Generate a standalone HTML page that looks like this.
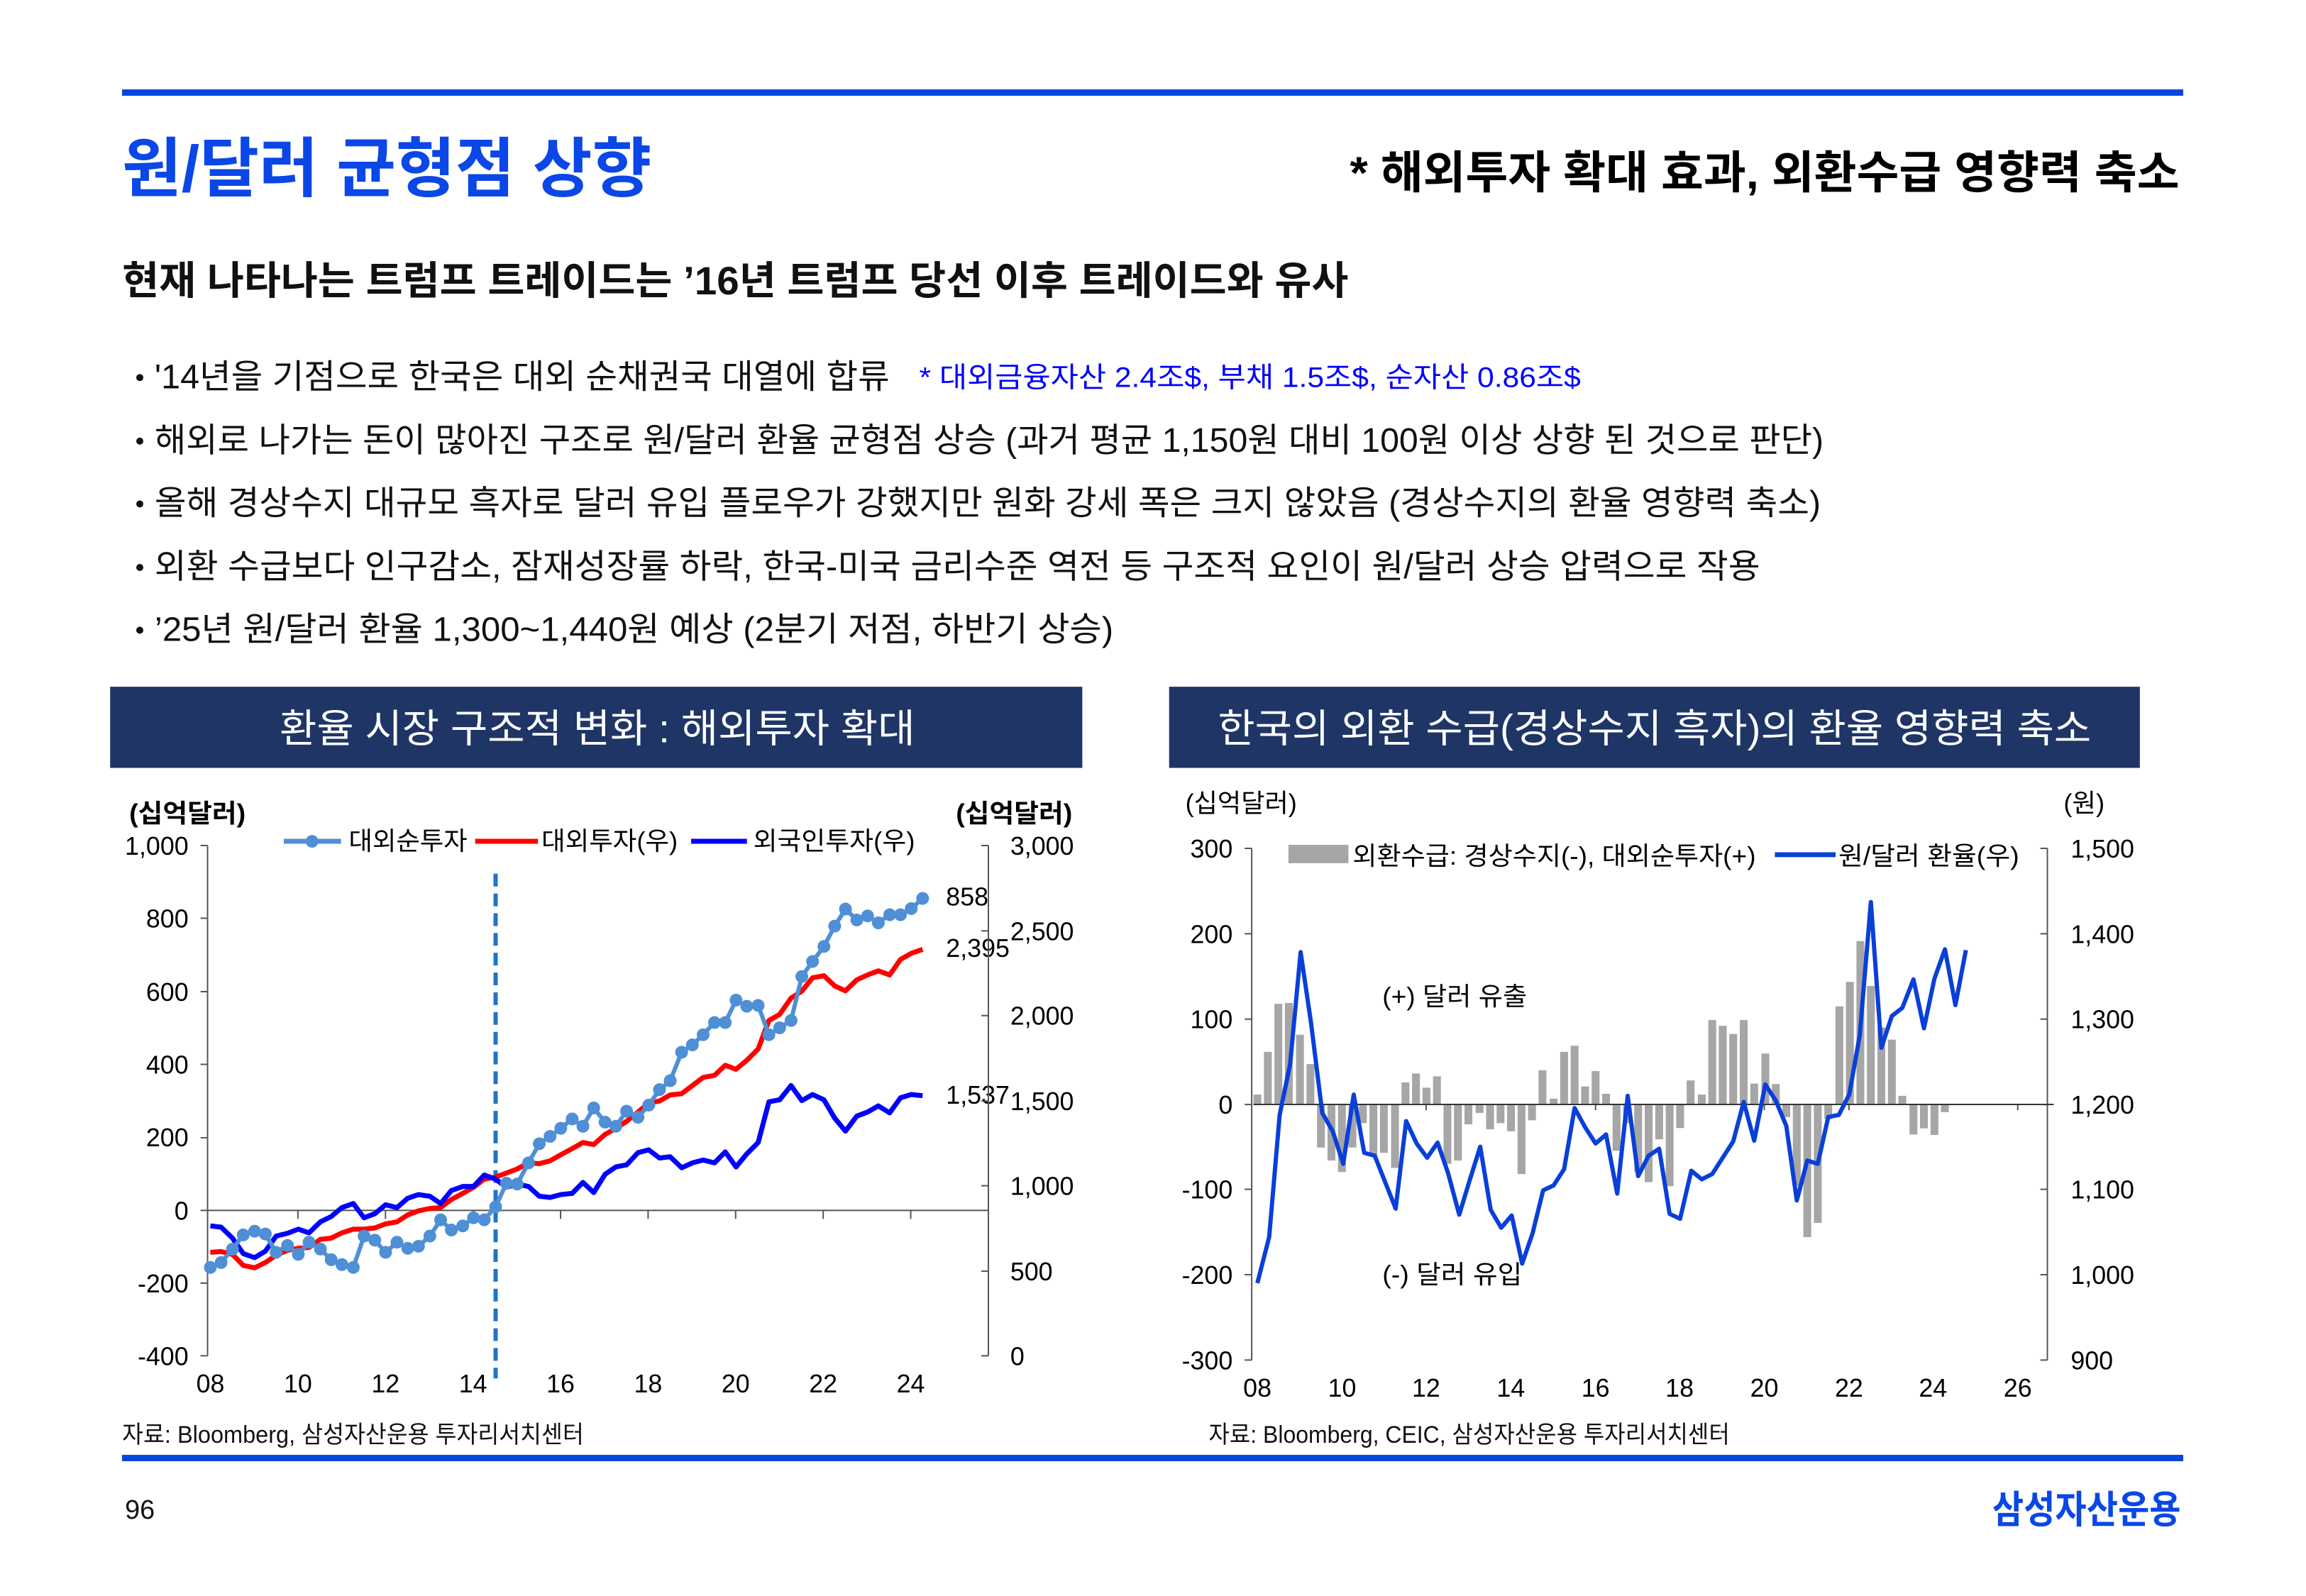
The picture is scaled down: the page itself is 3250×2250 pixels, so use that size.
<!DOCTYPE html>
<html><head><meta charset="utf-8">
<style>
html,body{margin:0;padding:0;background:#fff;}
svg{display:block;}
text{font-family:"Liberation Sans","Noto Sans CJK KR",sans-serif;}
.n{vector-effect:non-scaling-stroke;}
</style></head>
<body>
<svg width="3250" height="2250" viewBox="0 0 3250 2250" xmlns="http://www.w3.org/2000/svg">
<rect width="3250" height="2250" fill="#fff"/>
<rect x="172" y="126" width="2905" height="9" fill="#0047e0"/>
<rect x="172" y="2051" width="2905" height="9" fill="#0047e0"/>
<g transform="scale(0.995)">
<!-- header -->
<text x="173" y="271" font-size="92" font-weight="bold" fill="#0a47e6" textLength="750" lengthAdjust="spacingAndGlyphs">원/달러 균형점 상향</text>
<text x="1912" y="267" font-size="64" font-weight="bold" fill="#000" textLength="1175" lengthAdjust="spacingAndGlyphs">* 해외투자 확대 효과, 외환수급 영향력 축소</text>
<text x="173" y="417" font-size="56" font-weight="bold" fill="#111" textLength="1737" lengthAdjust="spacingAndGlyphs">현재 나타나는 트럼프 트레이드는 ’16년 트럼프 당선 이후 트레이드와 유사</text>
<g font-size="48" fill="#111">
<circle cx="198" cy="535" r="5" fill="#111"/>
<text x="219" y="550" textLength="1041" lengthAdjust="spacingAndGlyphs">'14년을 기점으로 한국은 대외 순채권국 대열에 합류</text>
<text x="1302" y="548" font-size="40" fill="#0000ff" textLength="937" lengthAdjust="spacingAndGlyphs">* 대외금융자산 2.4조$, 부채 1.5조$, 순자산 0.86조$</text>
<circle cx="198" cy="625" r="5" fill="#111"/>
<text x="219" y="640" textLength="2364" lengthAdjust="spacingAndGlyphs">해외로 나가는 돈이 많아진 구조로 원/달러 환율 균형점 상승 (과거 평균 1,150원 대비 100원 이상 상향 된 것으로 판단)</text>
<circle cx="198" cy="714" r="5" fill="#111"/>
<text x="219" y="729" textLength="2360" lengthAdjust="spacingAndGlyphs">올해 경상수지 대규모 흑자로 달러 유입 플로우가 강했지만 원화 강세 폭은 크지 않았음 (경상수지의 환율 영향력 축소)</text>
<circle cx="198" cy="804" r="5" fill="#111"/>
<text x="219" y="819" textLength="2274" lengthAdjust="spacingAndGlyphs">외환 수급보다 인구감소, 잠재성장률 하락, 한국-미국 금리수준 역전 등 구조적 요인이 원/달러 상승 압력으로 작용</text>
<circle cx="198" cy="893" r="5" fill="#111"/>
<text x="219" y="908" textLength="1358" lengthAdjust="spacingAndGlyphs">’25년 원/달러 환율  1,300~1,440원 예상 (2분기 저점, 하반기 상승)</text>
</g>
<rect x="156" y="973" width="1377" height="115" fill="#1f3566"/>
<rect x="1656" y="973" width="1375" height="115" fill="#1f3566"/>
<text x="396" y="1052" font-size="56" fill="#fff" textLength="900" lengthAdjust="spacingAndGlyphs">환율 시장 구조적 변화 : 해외투자 확대</text>
<text x="1725" y="1052" font-size="56" fill="#fff" textLength="1237" lengthAdjust="spacingAndGlyphs">한국의 외환 수급(경상수지 흑자)의 환율 영향력 축소</text>

<!-- ===== LEFT CHART ===== -->
<g font-size="36" fill="#000">
<text x="183" y="1165" font-weight="bold" textLength="165" lengthAdjust="spacingAndGlyphs">(십억달러)</text>
<text x="1354" y="1165" font-weight="bold" textLength="165" lengthAdjust="spacingAndGlyphs">(십억달러)</text>
<g text-anchor="end">
<text x="267" y="1211">1,000</text><text x="267" y="1314">800</text><text x="267" y="1418">600</text>
<text x="267" y="1521">400</text><text x="267" y="1624">200</text><text x="267" y="1728">0</text>
<text x="267" y="1831">-200</text><text x="267" y="1934">-400</text>
</g>
<text x="1431" y="1211">3,000</text><text x="1431" y="1332">2,500</text><text x="1431" y="1452">2,000</text>
<text x="1431" y="1573">1,500</text><text x="1431" y="1693">1,000</text><text x="1431" y="1814">500</text><text x="1431" y="1934">0</text>
<g text-anchor="middle">
<text x="298" y="1973">08</text><text x="422" y="1973">10</text><text x="546" y="1973">12</text><text x="670" y="1973">14</text>
<text x="794" y="1973">16</text><text x="918" y="1973">18</text><text x="1042" y="1973">20</text><text x="1166" y="1973">22</text><text x="1290" y="1973">24</text>
</g>
<text x="1340" y="1283">858</text>
<text x="1340" y="1356">2,395</text>
<text x="1340" y="1564">1,537</text>
<line x1="402" y1="1192" x2="483" y2="1192" stroke="#4f8fd6" stroke-width="7"/>
<circle cx="442" cy="1192" r="9" fill="#4f8fd6"/>
<text x="494" y="1204" textLength="168" lengthAdjust="spacingAndGlyphs">대외순투자</text>
<line x1="673" y1="1192" x2="762" y2="1192" stroke="#ff0000" stroke-width="7"/>
<text x="767" y="1204" textLength="193" lengthAdjust="spacingAndGlyphs">대외투자(우)</text>
<line x1="979" y1="1192" x2="1058" y2="1192" stroke="#0000ff" stroke-width="7"/>
<text x="1067" y="1204" textLength="229" lengthAdjust="spacingAndGlyphs">외국인투자(우)</text>
</g>
<g stroke="#555" stroke-width="2">
<line x1="294" y1="1198" x2="294" y2="1921"/>
<line x1="1400" y1="1198" x2="1400" y2="1921"/>
<line x1="294" y1="1715" x2="1400" y2="1715"/>
<path d="M284 1198h10M284 1301h10M284 1405h10M284 1508h10M284 1612h10M284 1715h10M284 1818h10M284 1921h10"/>
<path d="M1390 1198h10M1390 1319h10M1390 1439h10M1390 1560h10M1390 1680h10M1390 1801h10M1390 1921h10"/>
<path d="M422 1715v12M546 1715v12M670 1715v12M794 1715v12M918 1715v12M1042 1715v12M1166 1715v12M1290 1715v12"/>
</g>
<line x1="702" y1="1238" x2="702" y2="1953" stroke="#1f74c8" stroke-width="6" stroke-dasharray="18,10"/>
<g transform="matrix(0.896,0,0,0.5764,151.9,1105.8)" fill="none" stroke-linejoin="round">
<polyline class="n" stroke="#ff0000" stroke-width="7" points="163,1160 180,1158 198,1165 215,1192 233,1198 250,1185 267,1167 285,1155 302,1150 319,1148 337,1128 354,1125 371,1112 389,1103 406,1103 423,1100 440,1090 458,1085 475,1068 492,1058 510,1052 527,1050 544,1030 562,1015 579,1000 596,980 614,975 631,965 648,955 666,940 683,942 700,935 717,920 735,905 752,890 769,895 787,870 804,855 821,838 839,815 856,793 873,788 890,773 908,770 925,750 942,730 960,725 977,700 994,710 1011,688 1029,660 1046,590 1063,575 1081,535 1098,518 1115,485 1133,480 1150,505 1167,517 1185,490 1202,478 1219,468 1237,478 1254,440 1271,425 1289,415"/>
<polyline class="n" stroke="#0000ff" stroke-width="7" points="163,1095 180,1098 198,1125 215,1163 233,1173 250,1157 267,1120 285,1113 302,1103 319,1112 337,1085 354,1072 371,1050 389,1040 406,1075 423,1065 440,1043 458,1050 475,1027 492,1018 510,1022 527,1040 544,1008 562,998 579,998 596,970 614,980 631,1000 648,992 666,998 683,1022 700,1025 717,1018 735,1015 752,988 769,1013 787,968 804,950 821,945 839,915 856,908 873,928 890,925 908,952 925,940 942,933 960,940 977,913 994,950 1011,918 1029,890 1046,790 1063,785 1081,750 1098,787 1115,772 1133,785 1150,830 1167,862 1185,825 1202,815 1219,800 1237,817 1254,780 1271,772 1289,775"/>
<polyline class="n" stroke="#4f8fd6" stroke-width="6" points="163,1197 180,1185 198,1152 215,1117 233,1108 250,1115 267,1160 285,1143 302,1165 319,1135 337,1152 354,1178 371,1190 389,1197 406,1120 423,1130 440,1160 458,1135 475,1150 492,1145 510,1120 527,1080 544,1105 562,1095 579,1075 596,1080 614,1048 631,990 648,992 666,940 683,893 700,875 717,855 735,832 752,850 769,805 787,840 804,850 821,813 839,828 856,798 873,760 890,738 908,668 925,650 942,625 960,595 977,595 994,540 1011,555 1029,553 1046,625 1063,608 1081,590 1098,482 1115,445 1133,408 1150,358 1167,316 1185,343 1202,333 1219,350 1237,330 1254,330 1271,315 1289,290"/>
<path class="n" stroke="#4f8fd6" stroke-width="18" stroke-linecap="round" d="M163,1197h.01M180,1185h.01M198,1152h.01M215,1117h.01M233,1108h.01M250,1115h.01M267,1160h.01M285,1143h.01M302,1165h.01M319,1135h.01M337,1152h.01M354,1178h.01M371,1190h.01M389,1197h.01M406,1120h.01M423,1130h.01M440,1160h.01M458,1135h.01M475,1150h.01M492,1145h.01M510,1120h.01M527,1080h.01M544,1105h.01M562,1095h.01M579,1075h.01M596,1080h.01M614,1048h.01M631,990h.01M648,992h.01M666,940h.01M683,893h.01M700,875h.01M717,855h.01M735,832h.01M752,850h.01M769,805h.01M787,840h.01M804,850h.01M821,813h.01M839,828h.01M856,798h.01M873,760h.01M890,738h.01M908,668h.01M925,650h.01M942,625h.01M960,595h.01M977,595h.01M994,540h.01M1011,555h.01M1029,553h.01M1046,625h.01M1063,608h.01M1081,590h.01M1098,482h.01M1115,445h.01M1133,408h.01M1150,358h.01M1167,316h.01M1185,343h.01M1202,333h.01M1219,350h.01M1237,330h.01M1254,330h.01M1271,315h.01M1289,290h.01"/>
</g>

<!-- ===== RIGHT CHART ===== -->
<g font-size="36" fill="#000">
<text x="1679" y="1150" textLength="158" lengthAdjust="spacingAndGlyphs">(십억달러)</text>
<text x="2923" y="1150" textLength="58" lengthAdjust="spacingAndGlyphs">(원)</text>
<g text-anchor="end">
<text x="1746" y="1215">300</text><text x="1746" y="1336">200</text><text x="1746" y="1457">100</text>
<text x="1746" y="1578">0</text><text x="1746" y="1698">-100</text><text x="1746" y="1819">-200</text><text x="1746" y="1940">-300</text>
</g>
<text x="2933" y="1215">1,500</text><text x="2933" y="1336">1,400</text><text x="2933" y="1457">1,300</text>
<text x="2933" y="1578">1,200</text><text x="2933" y="1698">1,100</text><text x="2933" y="1819">1,000</text><text x="2933" y="1940">900</text>
<g text-anchor="middle">
<text x="1781" y="1979">08</text><text x="1901" y="1979">10</text><text x="2020" y="1979">12</text><text x="2140" y="1979">14</text>
<text x="2260" y="1979">16</text><text x="2379" y="1979">18</text><text x="2499" y="1979">20</text><text x="2619" y="1979">22</text>
<text x="2738" y="1979">24</text><text x="2858" y="1979">26</text>
</g>
<rect x="1825" y="1197" width="85" height="26" fill="#a6a6a6"/>
<text x="1916" y="1225" textLength="571" lengthAdjust="spacingAndGlyphs">외환수급: 경상수지(-), 대외순투자(+)</text>
<line x1="2514" y1="1211" x2="2600" y2="1211" stroke="#0a3fd8" stroke-width="7"/>
<text x="2604" y="1225" textLength="256" lengthAdjust="spacingAndGlyphs">원/달러 환율(우)</text>
<text x="1958" y="1424" textLength="205" lengthAdjust="spacingAndGlyphs">(+) 달러 유출</text>
<text x="1958" y="1818" textLength="198" lengthAdjust="spacingAndGlyphs">(-) 달러 유입</text>
</g>
<g stroke="#555" stroke-width="2">
<line x1="1773" y1="1202" x2="1773" y2="1927"/>
<line x1="2900" y1="1202" x2="2900" y2="1927"/>
<path d="M1763 1202h10M1763 1323h10M1763 1444h10M1763 1565h10M1763 1685h10M1763 1806h10M1763 1927h10"/>
<path d="M2890 1202h10M2890 1323h10M2890 1444h10M2890 1565h10M2890 1685h10M2890 1806h10M2890 1927h10"/>
<path d="M1901 1565v8M2020 1565v8M2140 1565v8M2260 1565v8M2379 1565v8M2499 1565v8M2619 1565v8M2738 1565v8M2858 1565v8"/>
</g>
<g transform="matrix(0.9284,0,0,0.5768,1660.3,1103.9)" fill="#a6a6a6">
<path d="M124,775h12V799h-12zM140,670h12V799h-12zM156,552h12V799h-12zM172,550h12V799h-12zM189,628h12V799h-12zM205,700h12V799h-12zM221,799h12V905h-12zM237,799h12V937h-12zM253,799h12V965h-12zM269,799h12V905h-12zM285,799h12V845h-12zM301,799h12V925h-12zM317,799h12V918h-12zM334,799h12V955h-12zM350,745h12V799h-12zM366,723h12V799h-12zM382,758h12V799h-12zM398,730h12V799h-12zM414,799h12V945h-12zM430,799h12V937h-12zM446,799h12V848h-12zM463,799h12V820h-12zM479,799h12V860h-12zM495,799h12V845h-12zM511,799h12V865h-12zM527,799h12V970h-12zM543,799h12V838h-12zM559,715h12V799h-12zM576,785h12V799h-12zM592,670h12V799h-12zM608,655h12V799h-12zM624,755h12V799h-12zM640,717h12V799h-12zM656,773h12V799h-12zM672,799h12V913h-12zM688,799h12V845h-12zM705,799h12V965h-12zM721,799h12V990h-12zM737,799h12V885h-12zM753,799h12V1000h-12zM769,799h12V857h-12zM785,740h12V799h-12zM802,775h12V799h-12zM818,592h12V799h-12zM834,606h12V799h-12zM850,626h12V799h-12zM866,592h12V799h-12zM882,748h12V799h-12zM899,674h12V799h-12zM915,749h12V799h-12zM931,799h12V830h-12zM947,799h12V1000h-12zM963,799h12V1125h-12zM979,799h12V1090h-12zM995,799h12V835h-12zM1012,558h12V799h-12zM1028,498h12V799h-12zM1044,398h12V799h-12zM1060,508h12V799h-12zM1076,610h12V799h-12zM1092,640h12V799h-12zM1108,778h12V799h-12zM1125,799h12V873h-12zM1141,799h12V858h-12zM1157,799h12V874h-12zM1173,799h12V818h-12z"/>
<line class="n" x1="124" y1="799" x2="1345" y2="799" stroke="#333" stroke-width="2"/>
<polyline class="n" fill="none" stroke="#0a3fd8" stroke-width="6" stroke-linejoin="round" points="130,1238 148,1125 164,825 180,700 196,425 212,600 229,820 245,865 261,945 277,775 293,918 309,925 325,990 341,1055 357,840 373,895 389,930 405,893 421,968 438,1070 454,985 470,903 486,1058 502,1102 518,1072 534,1190 550,1115 566,1010 582,998 598,958 614,808 630,855 646,895 662,873 679,1018 695,778 711,975 727,925 743,908 759,1068 775,1080 792,962 808,983 824,970 840,930 856,890 872,793 888,888 905,750 921,790 937,852 953,1035 969,937 985,945 1001,830 1017,825 1033,775 1049,630 1066,302 1082,660 1098,582 1114,562 1131,492 1147,612 1163,490 1179,418 1195,555 1211,420"/>
</g>

<text x="173" y="2044" font-size="34" fill="#111" textLength="654" lengthAdjust="spacingAndGlyphs">자료: Bloomberg, 삼성자산운용 투자리서치센터</text>
<text x="1712" y="2044" font-size="34" fill="#111" textLength="738" lengthAdjust="spacingAndGlyphs">자료: Bloomberg, CEIC, 삼성자산운용 투자리서치센터</text>
<text x="177" y="2152" font-size="38" fill="#111">96</text>
<text x="2822" y="2158" font-size="54" font-weight="bold" fill="#0a47e6" textLength="267" lengthAdjust="spacingAndGlyphs">삼성자산운용</text>
</g>
</svg>
</body></html>
